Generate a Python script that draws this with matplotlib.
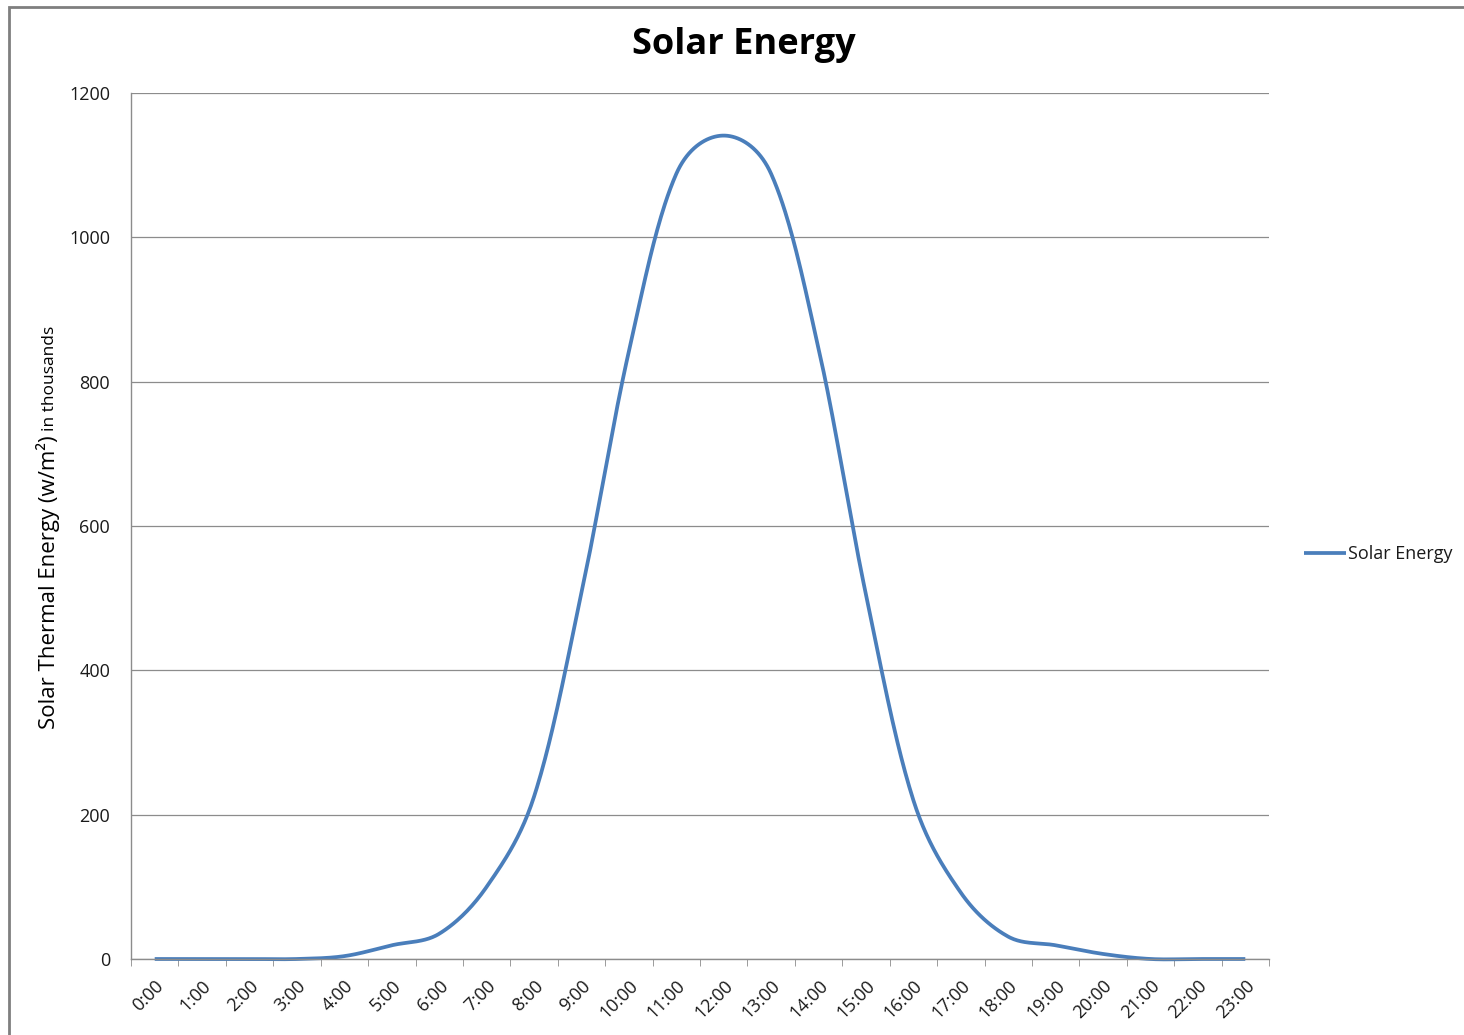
import numpy as np
import matplotlib.pyplot as plt
from matplotlib.patches import Rectangle

# hourly values
hours = ["%d:00" % h for h in range(24)]
energy = [0, 0, 0, 0, 4, 19, 35, 100, 225, 507, 842, 1088, 1141, 1088,
          846, 505, 220, 92, 31, 19, 7, 0, 0, 0]
series_name = "Solar Energy"

plt.rcParams['font.family'] = ['Open Sans', 'DejaVu Sans']

# pixel size of one x unit / one y unit, used to weight the smoothing
XPX = 1138 / 24
YPX = 866 / 1200


def smooth(x, y, n=40, w=0.5):
    # Excel-like smoothed line: Bezier segments, tangents partly weighted by chord length
    x = np.asarray(x, float)
    y = np.asarray(y, float)
    m = len(x)
    P = np.column_stack([x, y])
    S = np.array([XPX, YPX])
    ctrl_f = P.copy()
    ctrl_b = P.copy()
    for i in range(m):
        a = P[max(i - 1, 0)]
        b = P[min(i + 1, m - 1)]
        db = np.hypot(*((P[i] - a) * S))
        df = np.hypot(*((b - P[i]) * S))
        if db + df == 0:
            continue
        T = b - a
        kf = (1 - w) / 6 + w / 3 * df / (db + df)
        kb = (1 - w) / 6 + w / 3 * db / (db + df)
        ctrl_f[i] = P[i] + T * kf
        ctrl_b[i] = P[i] - T * kb
    t = np.linspace(0, 1, n)[:, None]
    out = []
    for i in range(m - 1):
        p0, c1, c2, p3 = P[i], ctrl_f[i], ctrl_b[i + 1], P[i + 1]
        out.append(((1 - t) ** 3) * p0 + 3 * ((1 - t) ** 2) * t * c1
                   + 3 * (1 - t) * t ** 2 * c2 + t ** 3 * p3)
    out = np.vstack(out)
    return out[:, 0], out[:, 1]


fig = plt.figure(figsize=(14.64, 10.35), dpi=100)
ax = fig.add_axes([131 / 1464, 1 - 959 / 1035, 1138 / 1464, 866 / 1035])

X = np.arange(len(hours))
sx, sy = smooth(X, energy)
line, = ax.plot(sx, sy, color="#4A7EBB", lw=2.7, solid_capstyle="butt", clip_on=False)

ax.set_xlim(-0.5, len(hours) - 0.5)
ax.set_ylim(0, 1200)
ax.set_yticks(np.arange(0, 1201, 200))
ax.yaxis.grid(True, color="#8c8c8c", lw=0.9)
ax.set_axisbelow(True)
ax.tick_params(axis="y", length=0, pad=15, labelsize=13, labelcolor="#1a1a1a")

ax.set_xticks(X)
ax.set_xticklabels(hours, rotation=45, ha="right", rotation_mode="anchor",
                   fontsize=13, color="#1a1a1a")
ax.tick_params(axis="x", which="major", length=0, pad=13)
ax.set_xticks(np.arange(-0.5, len(hours)), minor=True)
ax.tick_params(axis="x", which="minor", length=5, direction="out", color="#8c8c8c")

for s in ["top", "right"]:
    ax.spines[s].set_visible(False)
for s in ["left", "bottom"]:
    ax.spines[s].set_color("#8c8c8c")
    ax.spines[s].set_linewidth(1.0)

fig.text(0.508, 1 - 45 / 1035, series_name, ha="center", va="center",
         fontsize=26, fontweight="bold")

# y label: main part plus smaller "in thousands"
t1 = fig.text(48 / 1464, 1 - 729 / 1035, "Solar Thermal Energy (w/m²)", rotation=90,
              ha="center", va="bottom", fontsize=16)
fig.canvas.draw()
bb = t1.get_window_extent()
fig.text(50 / 1464, bb.y1 / fig.bbox.height + 0.004, "in thousands", rotation=90,
         ha="center", va="bottom", fontsize=12.5)

leg = ax.legend([line], [series_name], loc="center left",
                bbox_to_anchor=((1304 - 131) / 1138, (959 - 554) / 866),
                frameon=False, fontsize=13, handlelength=2.3, handletextpad=0.15,
                borderpad=0, borderaxespad=0, labelcolor="#1a1a1a")

fig.patches.append(Rectangle((9 / 1464, -0.05), 1.1, 1.05 - 7 / 1035, transform=fig.transFigure,
                             fill=False, edgecolor="#7f7f7f", lw=2))

fig.savefig("out.png", dpi=100)
